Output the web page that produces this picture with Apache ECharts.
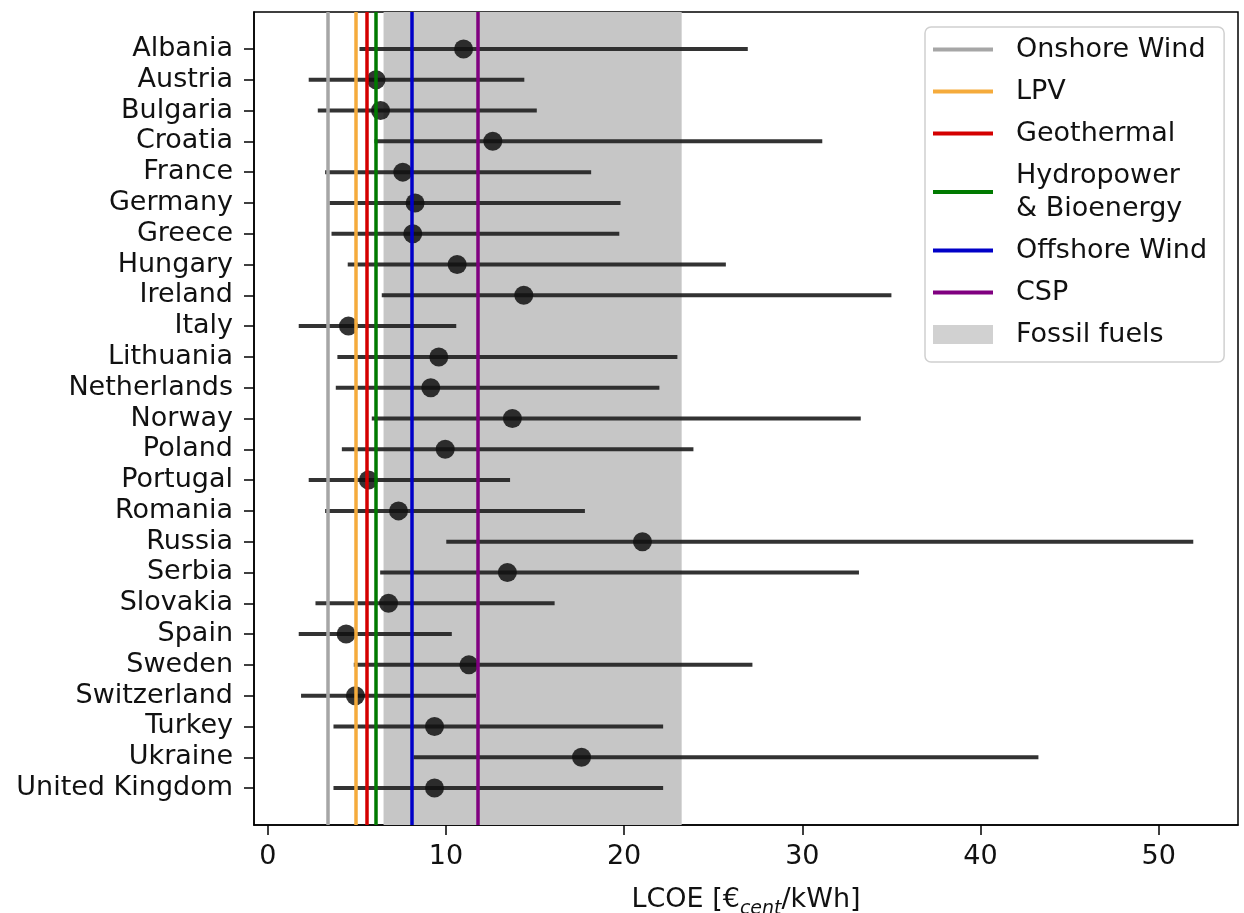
<!DOCTYPE html>
<html>
<head>
<meta charset="utf-8">
<script src="https://cdn.jsdelivr.net/npm/echarts@6/dist/echarts.min.js"></script>
<style>
html, body { margin: 0; padding: 0; background: #fff; }
#chart { width: 1244px; height: 913px; }
</style>
</head>
<body>
<div id="chart"></div>
<script>
var countries = ['Albania', 'Austria', 'Bulgaria', 'Croatia', 'France', 'Germany', 'Greece', 'Hungary',
    'Ireland', 'Italy', 'Lithuania', 'Netherlands', 'Norway', 'Poland', 'Portugal', 'Romania', 'Russia',
    'Serbia', 'Slovakia', 'Spain', 'Sweden', 'Switzerland', 'Turkey', 'Ukraine', 'United Kingdom'];
// LCOE range per country (low, central estimate, high)
var lcoeLow = [5.15, 2.30, 2.81, 5.99, 3.22, 3.46, 3.58, 4.49, 6.40, 1.74, 3.91, 3.82, 5.84, 4.16, 2.30,
    3.22, 10.02, 6.31, 2.68, 1.74, 4.83, 1.87, 3.69, 8.18, 3.69];
var lcoeMid = [10.99, 6.08, 6.33, 12.63, 7.58, 8.27, 8.14, 10.63, 14.37, 4.53, 9.60, 9.15, 13.73, 9.96, 5.65,
    7.34, 21.03, 13.45, 6.78, 4.40, 11.29, 4.92, 9.36, 17.61, 9.36];
var lcoeHigh = [26.94, 14.4, 15.1, 31.12, 18.15, 19.80, 19.73, 25.71, 35.0, 10.58, 22.99, 21.98, 33.28, 23.89, 13.6,
    17.80, 51.94, 33.18, 16.1, 10.33, 27.2, 11.70, 22.19, 43.25, 22.19];

// reference lines for the technologies
var techNames = ['Onshore Wind', 'LPV', 'Geothermal', 'Hydropower\n& Bioenergy', 'Offshore Wind', 'CSP'];
var techValues = [3.35, 4.92, 5.58, 6.05, 8.07, 11.81];
var techColors = ['#a6a6a6', '#f5ab3c', '#d40000', '#007a00', '#0000c8', '#800080'];
var fossilName = 'Fossil fuels';
var fossilRange = [6.50, 23.23];

var xTicks = [0, 10, 20, 30, 40, 50];

var font = 'DejaVu Sans';
// thin horizontal bar inside a 60x19 box, so the legend keeps it 4px high
var lineIcon = 'path://M0,0L0.01,0L0.01,0.01L0,0.01Z M0,7.5L60,7.5L60,11.5L0,11.5Z M59.99,18.99L60,18.99L60,19L59.99,19Z';

var chart = echarts.init(document.getElementById('chart'));

var series = [];
series.push({
    name: fossilName,
    type: 'scatter',
    data: [],
    z: 1,
    itemStyle: { color: '#c6c6c6' },
    markArea: {
        silent: true,
        itemStyle: { color: '#c6c6c6' },
        data: [[{ xAxis: fossilRange[0] }, { xAxis: fossilRange[1] }]]
    }
});
techNames.forEach(function (n, i) {
    series.push({
        name: n,
        type: 'line',
        data: [],
        symbol: 'none',
        z: 2,
        itemStyle: { color: techColors[i] },
        lineStyle: { color: techColors[i], width: 3.5 },
        markLine: {
            silent: true,
            symbol: 'none',
            label: { show: false },
            lineStyle: { color: techColors[i], width: 3.5, type: 'solid' },
            data: [{ xAxis: techValues[i] }]
        }
    });
});
series.push({
    type: 'custom',
    z: 3,
    data: countries.map(function (c, i) { return [lcoeLow[i], i, lcoeHigh[i]]; }),
    encode: { x: [0, 2], y: 1 },
    renderItem: function (params, api) {
        var y = api.value(1);
        var a = api.coord([api.value(0), y]);
        var b = api.coord([api.value(2), y]);
        return {
            type: 'line',
            shape: { x1: a[0], y1: a[1], x2: b[0], y2: b[1] },
            style: { stroke: '#222', lineWidth: 4, opacity: 0.92 }
        };
    }
});
series.push({
    type: 'scatter',
    z: 4,
    symbolSize: 19,
    itemStyle: { color: '#111', opacity: 0.85 },
    data: countries.map(function (c, i) { return [lcoeMid[i], i]; })
});

var legendData = techNames.map(function (n, i) {
    return { name: n, icon: lineIcon, itemStyle: { color: techColors[i] } };
});
legendData.push({ name: fossilName, icon: 'rect', itemStyle: { color: '#c6c6c6' } });

var option = {
    backgroundColor: '#fff',
    animation: false,
    textStyle: { fontFamily: font },
    grid: {
        left: 254, right: 6, top: 12, bottom: 88,
        outerBoundsMode: 'none',
        containLabel: false,
        show: true, borderColor: '#000', borderWidth: 1.5, backgroundColor: 'transparent'
    },
    legend: {
        orient: 'vertical',
        left: 925,
        top: 27,
        itemWidth: 60,
        itemHeight: 19,
        itemGap: 9,
        padding: [6, 17, 11, 8],
        backgroundColor: 'rgba(255,255,255,0.85)',
        borderColor: '#d0d0d0',
        borderWidth: 1.5,
        borderRadius: 6,
        textStyle: { fontFamily: font, fontSize: 27, lineHeight: 33, color: '#111', padding: [0, 0, 0, 18] },
        data: legendData
    },
    xAxis: {
        type: 'value',
        min: -0.77,
        max: 54.45,
        name: '{a|LCOE [€}{b|cent}{a|/kWh]}',
        nameLocation: 'middle',
        nameGap: 64,
        nameTextStyle: {
            rich: {
                a: { fontFamily: font, fontSize: 27, color: '#111', lineHeight: 30, verticalAlign: 'bottom', padding: [0, 0, 6, 0] },
                b: { fontFamily: font, fontSize: 19, fontStyle: 'italic', color: '#111', lineHeight: 30, verticalAlign: 'bottom' }
            }
        },
        splitLine: { show: false },
        axisLine: { show: true, onZero: false, lineStyle: { color: '#000', width: 1.5 } },
        axisTick: { show: true, length: 10, lineStyle: { color: '#000', width: 1.5 }, customValues: xTicks },
        axisLabel: { fontFamily: font, fontSize: 27, color: '#111', margin: 18, customValues: xTicks }
    },
    yAxis: {
        type: 'value',
        inverse: true,
        min: -1.2,
        max: 25.2,
        splitLine: { show: false },
        axisLine: { show: true, onZero: false, lineStyle: { color: '#000', width: 1.5 } },
        axisTick: { show: true, length: 10, lineStyle: { color: '#000', width: 1.5 },
            customValues: countries.map(function (c, i) { return i; }) },
        axisLabel: {
            fontFamily: font, fontSize: 27, color: '#111', margin: 21,
            customValues: countries.map(function (c, i) { return i; }),
            formatter: function (v) { return countries[v]; }
        }
    },
    series: series
};
chart.setOption(option);
</script>
</body>
</html>
